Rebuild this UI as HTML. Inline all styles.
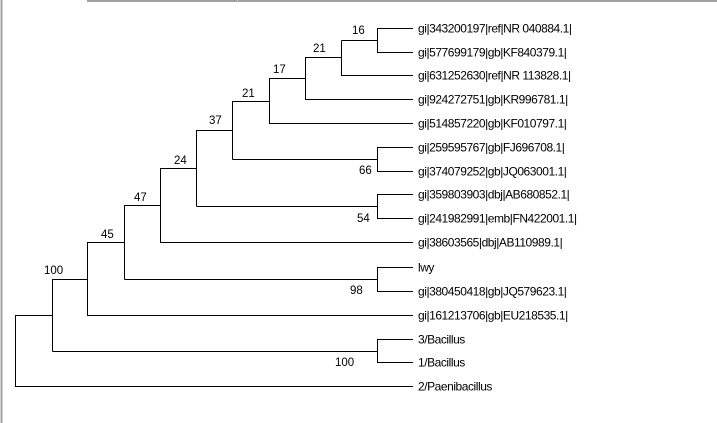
<!DOCTYPE html>
<html><head><style>
html,body{margin:0;padding:0;background:#fff;}
svg{display:block;}
text{font-family:"Liberation Sans",Arial,sans-serif;font-size:12px;fill:#000;letter-spacing:-0.45px;}
.n{font-size:11.5px;letter-spacing:0;}
</style></head><body>
<svg width="717" height="423" viewBox="0 0 717 423" xmlns="http://www.w3.org/2000/svg">
<rect x="0" y="0" width="717" height="423" fill="#fff"/>
<line x1="1.5" y1="0" x2="1.5" y2="423" stroke="#a0a0a0" stroke-width="2"/>
<line x1="87" y1="1" x2="717" y2="1" stroke="#a0a0a0" stroke-width="2"/>
<line x1="237.5" y1="0" x2="237.5" y2="2" stroke="#c8c8c8" stroke-width="1"/>
<g stroke="#000" stroke-width="1" fill="none" shape-rendering="crispEdges">
<path d="M413 28.5H377.5V52.5H413"/>
<path d="M377.5 40.5H341.5"/>
<path d="M341.5 40.5V75.5H413"/>
<path d="M341.5 57.5H305.5V99.5H413"/>
<path d="M305.5 78.5H269.5V123.5H413"/>
<path d="M269.5 101.5H232.5V159.5"/>
<path d="M413 147.5H377.5V171.5H413"/>
<path d="M377.5 159.5H232.5"/>
<path d="M232.5 130.5H196.5V206.5"/>
<path d="M413 194.5H377.5V218.5H413"/>
<path d="M377.5 206.5H196.5"/>
<path d="M196.5 168.5H160.5V242.5H413"/>
<path d="M160.5 205.5H124.5V279.5"/>
<path d="M413 267.5H377.5V291.5H413"/>
<path d="M377.5 279.5H124.5"/>
<path d="M124.5 242.5H87.5V315.5H413"/>
<path d="M87.5 279.5H52.5V351.5"/>
<path d="M413 339.5H377.5V362.5H413"/>
<path d="M377.5 351.5H52.5"/>
<path d="M52.5 315.5H15.5V386.5H413"/>
</g>
<g>
<text x="418" y="32.5">gi|343200197|ref|NR 040884.1|</text>
<text x="418" y="56.5">gi|577699179|gb|KF840379.1|</text>
<text x="418" y="79.5">gi|631252630|ref|NR 113828.1|</text>
<text x="418" y="103.5">gi|924272751|gb|KR996781.1|</text>
<text x="418" y="127.5">gi|514857220|gb|KF010797.1|</text>
<text x="418" y="151.5">gi|259595767|gb|FJ696708.1|</text>
<text x="418" y="175.5">gi|374079252|gb|JQ063001.1|</text>
<text x="418" y="198.5">gi|359803903|dbj|AB680852.1|</text>
<text x="418" y="222.5">gi|241982991|emb|FN422001.1|</text>
<text x="418" y="246.5">gi|38603565|dbj|AB110989.1|</text>
<text x="418" y="271.5">lwy</text>
<text x="418" y="295.5">gi|380450418|gb|JQ579623.1|</text>
<text x="418" y="319.5">gi|161213706|gb|EU218535.1|</text>
<text x="418" y="343.5">3/Bacillus</text>
<text x="418" y="366.5">1/Bacillus</text>
<text x="418" y="390.5">2/Paenibacillus</text>
</g>
<g>
<text class="n" x="352" y="34">16</text>
<text class="n" x="313" y="52">21</text>
<text class="n" x="273" y="73">17</text>
<text class="n" x="242" y="97">21</text>
<text class="n" x="209" y="124">37</text>
<text class="n" x="174" y="164">24</text>
<text class="n" x="134" y="201">47</text>
<text class="n" x="101" y="238">45</text>
<text class="n" x="44" y="274">100</text>
<text class="n" x="359" y="174">66</text>
<text class="n" x="357" y="222">54</text>
<text class="n" x="350" y="294">98</text>
<text class="n" x="335" y="366">100</text>
</g>
</svg>
</body></html>
